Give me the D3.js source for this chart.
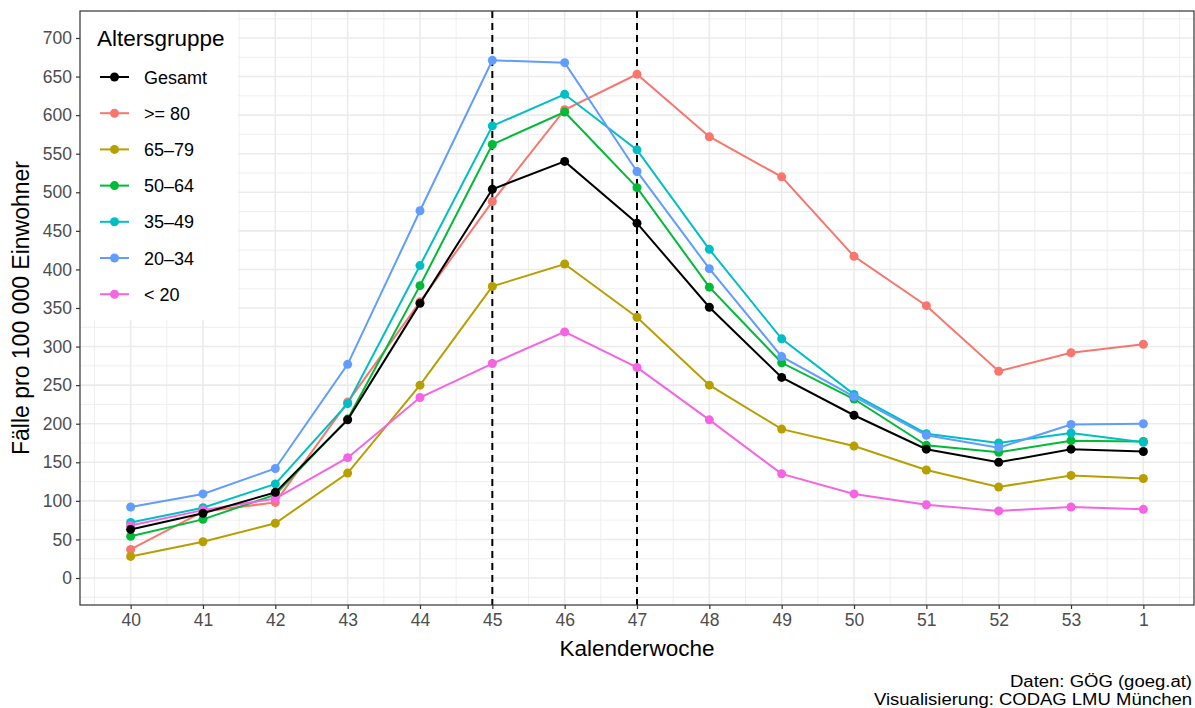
<!DOCTYPE html>
<html>
<head>
<meta charset="utf-8">
<script src="https://cdn.jsdelivr.net/npm/d3@7"></script>
<style>
html,body{margin:0;padding:0;background:#fff;}
text{font-family:"Liberation Sans",Arial,Helvetica,sans-serif;}
</style>
</head>
<body>
<svg id="chart" width="1195" height="708"></svg>
<script>
const weeks = ["40","41","42","43","44","45","46","47","48","49","50","51","52","53","1"];
const yTicks = [0,50,100,150,200,250,300,350,400,450,500,550,600,650,700];
const groups = ["Gesamt", ">= 80", "65\u201379", "50\u201364", "35\u201349", "20\u201334", "< 20"];
const colors = ["#000000", "#F8766D", "#B79F00", "#00BA38", "#00BFC4", "#619CFF", "#F564E3"];
const gesamt = [63, 84, 111, 205, 356, 504, 540, 460, 351, 260, 211, 167, 150, 167, 164];
const ge80   = [37, 86, 98, 228, 358, 488, 607, 653, 572, 520, 417, 353, 268, 292, 303];
const a6579  = [28, 47, 71, 136, 250, 378, 407, 338, 250, 193, 171, 140, 118, 133, 129];
const a5064  = [54, 76, 108, 206, 379, 562, 604, 506, 377, 279, 232, 172, 163, 178, 177];
const a3549  = [72, 91, 122, 226, 405, 586, 627, 555, 426, 310, 238, 187, 175, 188, 176];
const a2034  = [92, 109, 142, 277, 476, 671, 668, 527, 401, 287, 235, 185, 169, 199, 200];
const u20    = [68, 88, 103, 156, 234, 278, 319, 273, 205, 135, 109, 95, 87, 92, 89];
const markedWeeks = ["45", "47"];
const seriesValues = [gesamt, ge80, a6579, a5064, a3549, a2034, u20];

const svg = d3.select("#chart");
const P = {l: 80, r: 1194, t: 11, b: 605};
const x = d3.scaleLinear().domain([-0.7, weeks.length - 1 + 0.7]).range([P.l, P.r]);
const y = d3.scaleLinear().domain([-35, 735]).range([P.b, P.t]);

svg.append("rect").attr("x", P.l).attr("y", P.t).attr("width", P.r - P.l).attr("height", P.b - P.t).attr("fill", "#fff");

const grid = svg.append("g");
const xMinor = d3.range(-0.5, weeks.length - 1 + 0.6, 1);
const yMinor = d3.range(-25, 736, 50);
grid.selectAll(".xmin").data(xMinor).enter().append("line")
  .attr("x1", d => x(d)).attr("x2", d => x(d)).attr("y1", P.t).attr("y2", P.b)
  .attr("stroke", "#EBEBEB").attr("stroke-width", 0.8);
grid.selectAll(".ymin").data(yMinor).enter().append("line")
  .attr("y1", d => y(d)).attr("y2", d => y(d)).attr("x1", P.l).attr("x2", P.r)
  .attr("stroke", "#EBEBEB").attr("stroke-width", 0.8);
grid.selectAll(".xmaj").data(weeks).enter().append("line")
  .attr("x1", (d, i) => x(i)).attr("x2", (d, i) => x(i)).attr("y1", P.t).attr("y2", P.b)
  .attr("stroke", "#EBEBEB").attr("stroke-width", 1.6);
grid.selectAll(".ymaj").data(yTicks).enter().append("line")
  .attr("y1", d => y(d)).attr("y2", d => y(d)).attr("x1", P.l).attr("x2", P.r)
  .attr("stroke", "#EBEBEB").attr("stroke-width", 1.6);

svg.selectAll(".vl").data(markedWeeks).enter().append("line")
  .attr("x1", d => x(weeks.indexOf(d))).attr("x2", d => x(weeks.indexOf(d)))
  .attr("y1", P.t).attr("y2", P.b)
  .attr("stroke", "#000").attr("stroke-width", 2).attr("stroke-dasharray", "7,5");

const line = d3.line().x((d, i) => x(i)).y(d => y(d));
const order = [1, 2, 3, 4, 5, 6, 0];
order.forEach(k => {
  const g = svg.append("g");
  g.append("path").datum(seriesValues[k]).attr("d", line)
    .attr("fill", "none").attr("stroke", colors[k]).attr("stroke-width", 2);
  g.selectAll("circle").data(seriesValues[k]).enter().append("circle")
    .attr("cx", (d, i) => x(i)).attr("cy", d => y(d)).attr("r", 4.5).attr("fill", colors[k]);
});

svg.append("rect").attr("x", P.l).attr("y", P.t).attr("width", P.r - P.l).attr("height", P.b - P.t)
  .attr("fill", "none").attr("stroke", "#333333").attr("stroke-width", 1.2);

const yAxis = d3.axisLeft(y).tickValues(yTicks).tickSize(4).tickPadding(4);
const gy = svg.append("g").attr("transform", `translate(${P.l},0)`).call(yAxis);
gy.select(".domain").remove();
gy.selectAll(".tick line").attr("stroke", "#333333").attr("stroke-width", 1.2);
gy.selectAll(".tick text").attr("fill", "#4D4D4D").style("font-size", "17.5px").attr("font-family", null);

const xAxis = d3.axisBottom(x).tickValues(d3.range(weeks.length)).tickFormat(i => weeks[i]).tickSize(4).tickPadding(5);
const gx = svg.append("g").attr("transform", `translate(0,${P.b})`).call(xAxis);
gx.select(".domain").remove();
gx.selectAll(".tick line").attr("stroke", "#333333").attr("stroke-width", 1.2);
gx.selectAll(".tick text").attr("fill", "#4D4D4D").style("font-size", "17.5px").attr("font-family", null);

svg.append("text").attr("x", (P.l + P.r) / 2).attr("y", 656).attr("text-anchor", "middle")
  .style("font-size", "22.5px").attr("fill", "#000").text("Kalenderwoche");
svg.append("text").attr("transform", `translate(29,${(P.t + P.b) / 2}) rotate(-90)`).attr("text-anchor", "middle")
  .style("font-size", "23px").attr("fill", "#000").text("Fälle pro 100 000 Einwohner");

svg.append("text").attr("x", 1192).attr("y", 687).attr("text-anchor", "end")
  .attr("textLength", 182).attr("lengthAdjust", "spacingAndGlyphs")
  .style("font-size", "16px").attr("fill", "#000").text("Daten: GÖG (goeg.at)");
svg.append("text").attr("x", 1192).attr("y", 705).attr("text-anchor", "end")
  .attr("textLength", 318).attr("lengthAdjust", "spacingAndGlyphs")
  .style("font-size", "16px").attr("fill", "#000").text("Visualisierung: CODAG LMU München");

const lg = svg.append("g");
lg.append("rect").attr("x", P.l + 1).attr("y", P.t + 1).attr("width", 157).attr("height", 308).attr("fill", "#fff");
lg.append("text").attr("x", 97).attr("y", 46).style("font-size", "22.5px").attr("fill", "#000").text("Altersgruppe");
groups.forEach((gname, k) => {
  const cy = 77 + k * 36.2;
  lg.append("line").attr("x1", 100).attr("x2", 129).attr("y1", cy).attr("y2", cy)
    .attr("stroke", colors[k]).attr("stroke-width", 2);
  lg.append("circle").attr("cx", 114.5).attr("cy", cy).attr("r", 4.5).attr("fill", colors[k]);
  lg.append("text").attr("x", 144).attr("y", cy + 6.5).style("font-size", "18px").attr("fill", "#000").text(gname);
});
</script>
</body>
</html>
